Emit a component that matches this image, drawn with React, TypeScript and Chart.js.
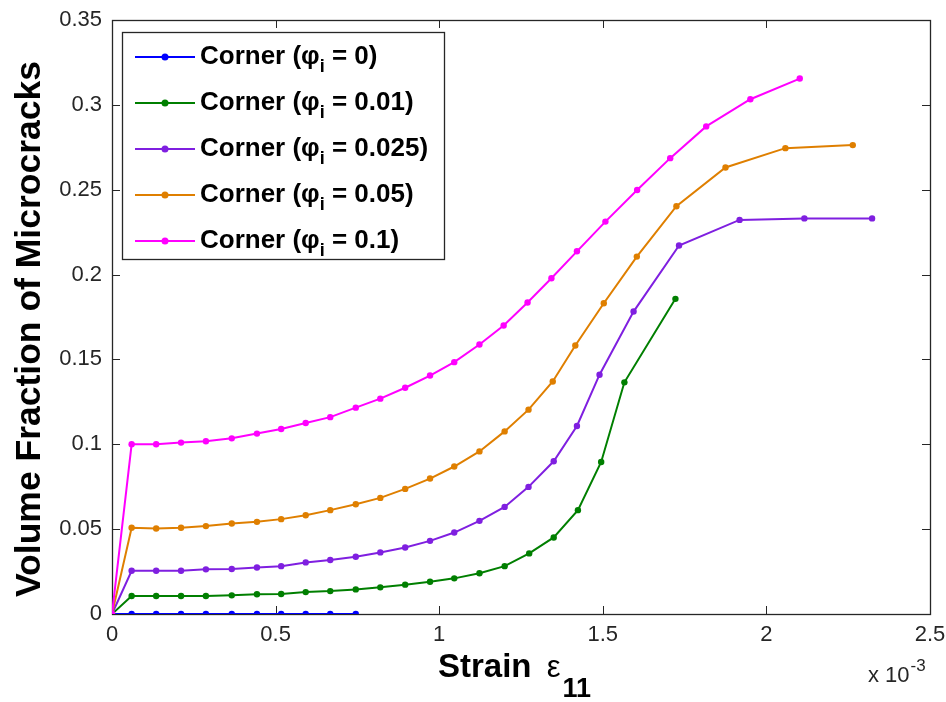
import React, { useEffect, useRef } from "react";
import { Chart, registerables } from "chart.js";

Chart.register(...registerables);

// ---- data (strain in units of 1e-3) ----
const seriesNames = ["0", "0.01", "0.025", "0.05", "0.1"];
const seriesColors = ["#0000ff", "#007f00", "#7f1fe0", "#df7f00", "#ff00ff"];

const blueX = [0, 0.06, 0.135, 0.211, 0.287, 0.366, 0.443, 0.517, 0.592, 0.667, 0.745];
const blueY = [0, 0, 0, 0, 0, 0, 0, 0, 0, 0, 0];

const greenX = [0, 0.06, 0.135, 0.211, 0.287, 0.366, 0.443, 0.517, 0.592, 0.667, 0.745, 0.82, 0.896, 0.972, 1.046, 1.123, 1.2, 1.275, 1.35, 1.424, 1.495, 1.566, 1.722];
const greenY = [0, 0.0106, 0.0106, 0.0106, 0.0106, 0.011, 0.0116, 0.0118, 0.0129, 0.0135, 0.0145, 0.0157, 0.0173, 0.019, 0.021, 0.024, 0.0282, 0.0357, 0.0451, 0.0612, 0.0896, 0.1365, 0.1857];

const purpleX = [0, 0.06, 0.135, 0.211, 0.287, 0.366, 0.443, 0.517, 0.592, 0.667, 0.745, 0.82, 0.896, 0.972, 1.046, 1.123, 1.2, 1.273, 1.35, 1.421, 1.49, 1.594, 1.733, 1.918, 2.116, 2.323];
const purpleY = [0, 0.0255, 0.0255, 0.0255, 0.0263, 0.0265, 0.0274, 0.0282, 0.0304, 0.0318, 0.0337, 0.0363, 0.0392, 0.0431, 0.048, 0.0549, 0.0631, 0.0749, 0.09, 0.1108, 0.141, 0.1782, 0.2171, 0.2322, 0.2331, 0.2331];

const orangeX = [0, 0.06, 0.135, 0.211, 0.287, 0.366, 0.443, 0.517, 0.592, 0.667, 0.745, 0.82, 0.896, 0.972, 1.046, 1.123, 1.2, 1.273, 1.347, 1.416, 1.503, 1.604, 1.725, 1.875, 2.058, 2.264];
const orangeY = [0, 0.0508, 0.0504, 0.0508, 0.0518, 0.0533, 0.0543, 0.0559, 0.0582, 0.0612, 0.0647, 0.0684, 0.0737, 0.0798, 0.0869, 0.0958, 0.1076, 0.1204, 0.137, 0.1582, 0.1831, 0.2106, 0.2403, 0.2631, 0.2745, 0.2763];

const pinkX = [0, 0.06, 0.135, 0.211, 0.287, 0.366, 0.443, 0.517, 0.592, 0.667, 0.745, 0.82, 0.896, 0.972, 1.046, 1.123, 1.197, 1.27, 1.343, 1.421, 1.508, 1.605, 1.706, 1.816, 1.951, 2.102];
const pinkY = [0, 0.1, 0.1, 0.101, 0.1018, 0.1035, 0.1063, 0.109, 0.1125, 0.116, 0.1216, 0.1269, 0.1333, 0.1405, 0.1484, 0.1588, 0.17, 0.1835, 0.1978, 0.2137, 0.2312, 0.2498, 0.2686, 0.2873, 0.3033, 0.3155];

const seriesX = [blueX, greenX, purpleX, orangeX, pinkX];
const seriesY = [blueY, greenY, purpleY, orangeY, pinkY];

const xTickValues = [0, 0.5, 1, 1.5, 2, 2.5];
const xTickLabels = ["0", "0.5", "1", "1.5", "2", "2.5"];
const yTickValues = [0, 0.05, 0.1, 0.15, 0.2, 0.25, 0.3, 0.35];
const yTickLabels = ["0", "0.05", "0.1", "0.15", "0.2", "0.25", "0.3", "0.35"];

const yTitle = "Volume Fraction of Microcracks";
const xTitleMain = "Strain ";
const xTitleSym = "ε";
const xTitleSub = "11";
const xExpBase = "x 10";
const xExpSup = "-3";
const legendPrefix = "Corner (φ";
const legendSub = "i";

const SANS = "'Liberation Sans', Arial, Helvetica, sans-serif";
const AXIS_COLOR = "#262626";

const framePlugin = {
  id: "frame",
  beforeDatasetsDraw(chart: any) {
    const { ctx, chartArea: a, scales } = chart;
    ctx.save();
    ctx.strokeStyle = AXIS_COLOR;
    ctx.lineWidth = 1;
    const tl = 8;
    ctx.beginPath();
    for (const v of xTickValues) {
      const px = Math.round(scales.x.getPixelForValue(v)) + 0.5;
      ctx.moveTo(px, a.bottom);
      ctx.lineTo(px, a.bottom - tl);
      ctx.moveTo(px, a.top);
      ctx.lineTo(px, a.top + tl);
    }
    for (const v of yTickValues) {
      const py = Math.round(scales.y.getPixelForValue(v)) + 0.5;
      ctx.moveTo(a.left, py);
      ctx.lineTo(a.left + tl, py);
      ctx.moveTo(a.right, py);
      ctx.lineTo(a.right - tl, py);
    }
    ctx.stroke();
    ctx.lineWidth = 1.3;
    ctx.strokeRect(Math.round(a.left) + 0.5, Math.round(a.top) + 0.5, Math.round(a.right - a.left), Math.round(a.bottom - a.top));
    ctx.restore();
  },
  afterDraw(chart: any) {
    const { ctx } = chart;
    ctx.save();
    ctx.fillStyle = "#000";
    // y title
    ctx.save();
    ctx.translate(40, 329);
    ctx.rotate(-Math.PI / 2);
    ctx.font = `bold 35.5px ${SANS}`;
    ctx.textAlign = "center";
    ctx.textBaseline = "alphabetic";
    ctx.fillText(yTitle, 0, 0);
    ctx.restore();

    // x title
    ctx.textBaseline = "alphabetic";
    ctx.textAlign = "left";
    const fMain = `bold 33px ${SANS}`;
    const fSym = `31px ${SANS}`;
    const fSub = `bold 27px ${SANS}`;
    ctx.font = fMain;
    const w1 = ctx.measureText(xTitleMain).width;
    ctx.font = fSym;
    const w2 = ctx.measureText(xTitleSym).width;
    let x0 = 438;
    ctx.font = fMain;
    ctx.fillText(xTitleMain, x0, 677);
    x0 += w1 + 6;
    ctx.font = fSym;
    ctx.fillText(xTitleSym, x0, 677);
    x0 += w2 + 2;
    ctx.font = fSub;
    ctx.fillText(xTitleSub, x0, 697);

    // exponent
    ctx.fillStyle = AXIS_COLOR;
    ctx.font = `22px ${SANS}`;
    ctx.fillText(xExpBase, 868, 682);
    const we = ctx.measureText(xExpBase).width;
    ctx.font = `17px ${SANS}`;
    ctx.fillText(xExpSup, 868 + we + 1, 671);

    // legend
    const lx = 122, ly = 32, lw = 322, lh = 227;
    ctx.fillStyle = "#fff";
    ctx.fillRect(lx, ly, lw, lh);
    ctx.strokeStyle = AXIS_COLOR;
    ctx.lineWidth = 1.3;
    ctx.strokeRect(lx + 0.5, ly + 0.5, lw, lh);
    for (let i = 0; i < seriesNames.length; i++) {
      const base = 64 + i * 46;
      const ly2 = base - 7;
      ctx.strokeStyle = seriesColors[i];
      ctx.lineWidth = 2;
      ctx.beginPath();
      ctx.moveTo(135, ly2);
      ctx.lineTo(195, ly2);
      ctx.stroke();
      ctx.fillStyle = seriesColors[i];
      ctx.beginPath();
      ctx.arc(165, ly2, 3.5, 0, Math.PI * 2);
      ctx.fill();
      ctx.fillStyle = "#000";
      let tx = 200;
      ctx.font = `bold 26px ${SANS}`;
      ctx.fillText(legendPrefix, tx, base);
      tx += ctx.measureText(legendPrefix).width;
      ctx.font = `bold 18px ${SANS}`;
      ctx.fillText(legendSub, tx, base + 8);
      tx += ctx.measureText(legendSub).width;
      ctx.font = `bold 26px ${SANS}`;
      ctx.fillText(` = ${seriesNames[i]})`, tx, base);
    }
    ctx.restore();
  },
};

export default function App() {
  const ref = useRef<HTMLCanvasElement | null>(null);
  useEffect(() => {
    if (!ref.current) return;
    const datasets = seriesNames.map((n, i) => ({
      label: `Corner (φi = ${n})`,
      data: seriesX[i].map((x, j) => ({ x, y: seriesY[i][j] })),
      borderColor: seriesColors[i],
      backgroundColor: seriesColors[i],
      borderWidth: 2,
      pointRadius: 3.2,
      pointBorderWidth: 0,
      pointStyle: "circle",
      showLine: true,
      tension: 0,
      order: 5 - i,
    }));
    const chart = new Chart(ref.current, {
      type: "scatter",
      data: { datasets },
      options: {
        animation: false,
        responsive: false,
        layout: { padding: { top: 20, right: 16, left: 0, bottom: 0 } },
        plugins: { legend: { display: false }, tooltip: { enabled: false } },
        scales: {
          x: {
            type: "linear",
            min: 0,
            max: 2.5,
            grid: { display: false, drawTicks: false },
            border: { display: false },
            afterBuildTicks: (s: any) => {
              s.ticks = xTickValues.map((v) => ({ value: v }));
            },
            afterFit: (s: any) => {
              s.height = 88;
              s.paddingLeft = 0;
              s.paddingRight = 0;
            },
            ticks: {
              padding: 8,
              color: AXIS_COLOR,
              font: { family: SANS, size: 22 },
              maxRotation: 0,
              autoSkip: false,
              callback: (_v: any, i: number) => xTickLabels[i],
            },
          },
          y: {
            type: "linear",
            min: 0,
            max: 0.35,
            grid: { display: false, drawTicks: false },
            border: { display: false },
            afterBuildTicks: (s: any) => {
              s.ticks = yTickValues.map((v) => ({ value: v }));
            },
            afterFit: (s: any) => {
              s.width = 112;
              s.paddingTop = 0;
              s.paddingBottom = 0;
            },
            ticks: {
              padding: 10,
              color: AXIS_COLOR,
              font: { family: SANS, size: 22 },
              autoSkip: false,
              callback: (_v: any, i: number) => yTickLabels[i],
            },
          },
        },
      },
      plugins: [framePlugin],
    });
    return () => chart.destroy();
  }, []);
  return (
    <div style={{ position: "absolute", left: 0, top: 0, width: 946, height: 702, background: "#fff" }}>
      <canvas ref={ref} width={946} height={702} style={{ width: 946, height: 702 }} />
    </div>
  );
}
